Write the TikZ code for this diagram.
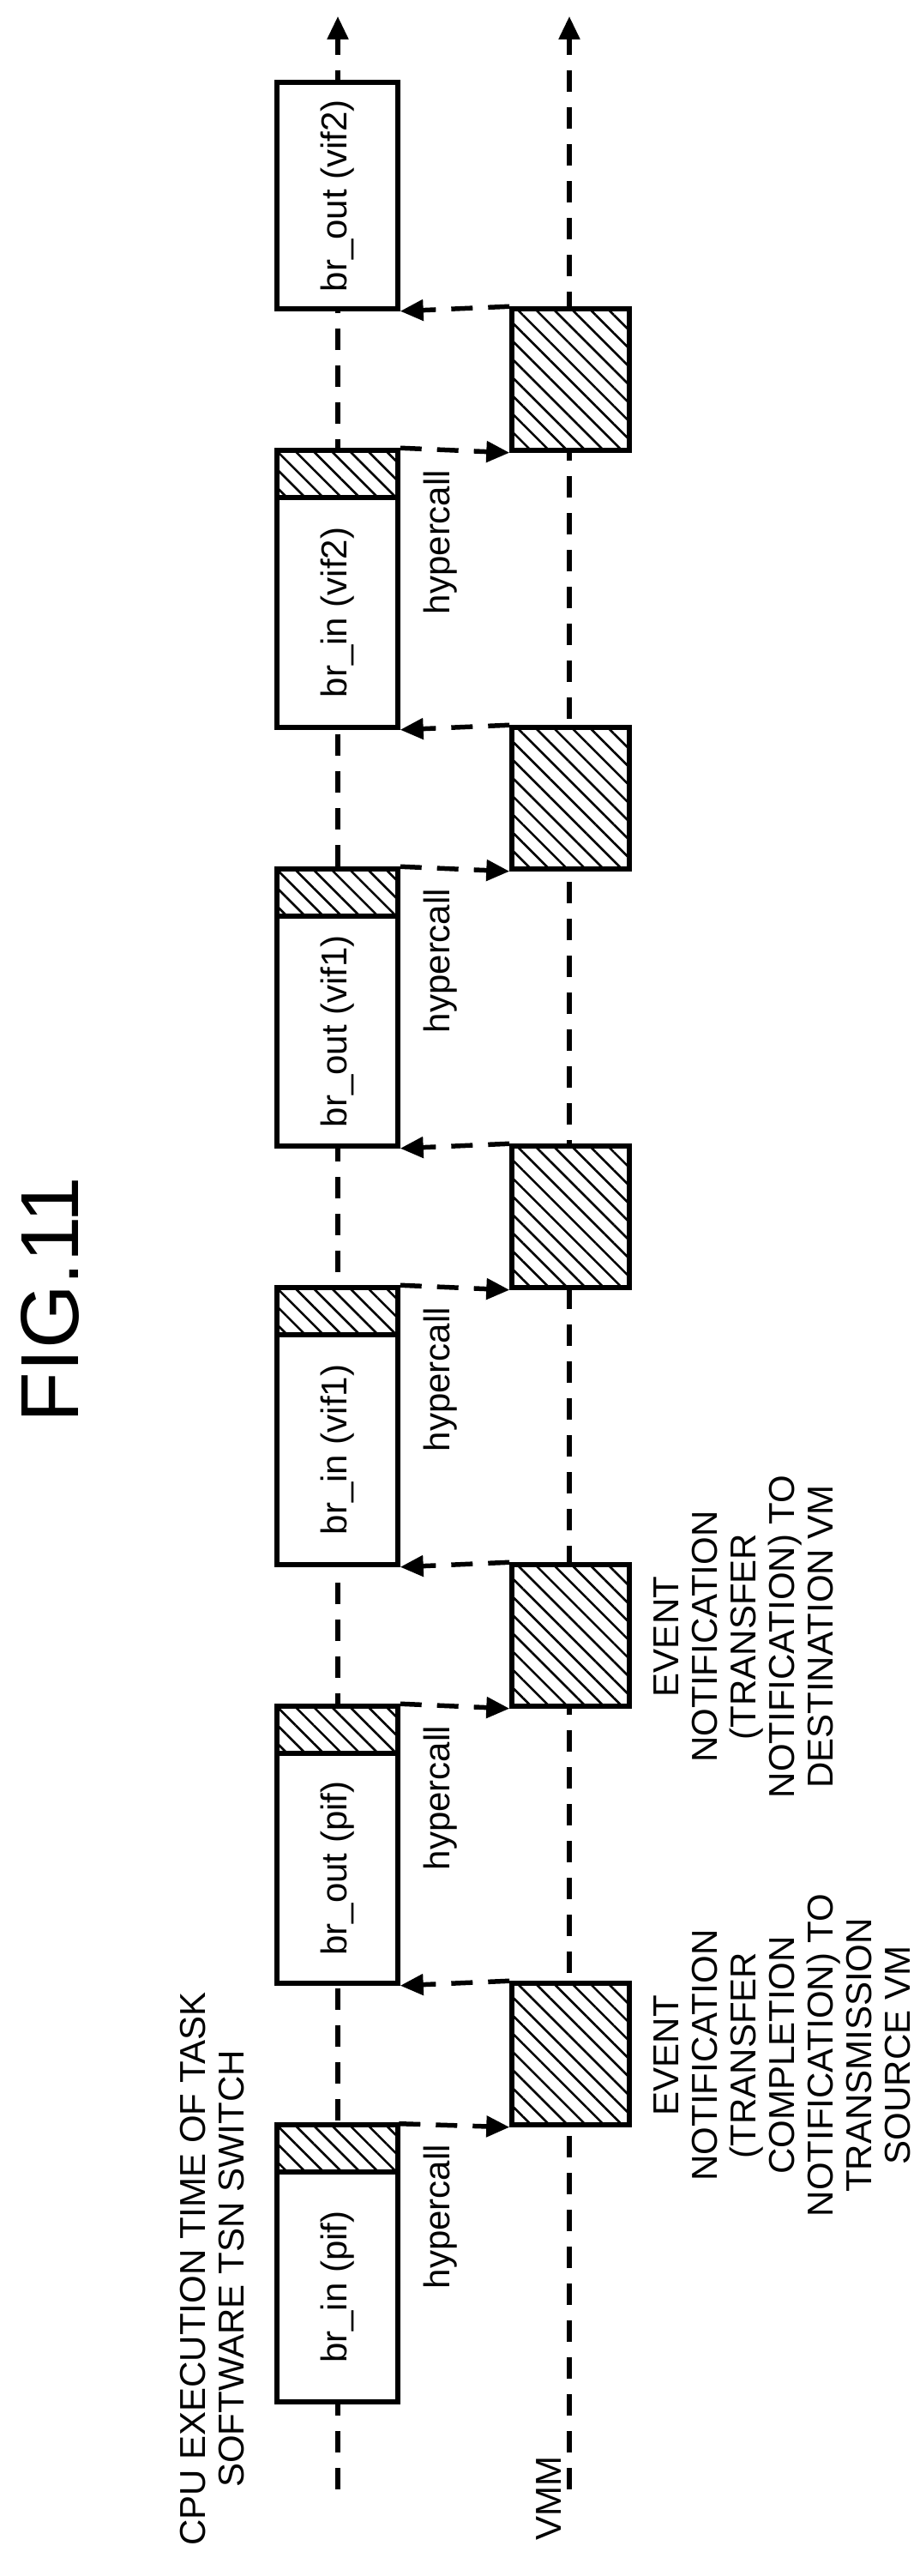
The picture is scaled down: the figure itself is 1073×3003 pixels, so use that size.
\documentclass[tikz,border=0pt]{standalone}
\usepackage{fontspec}
\setmainfont{Liberation Sans}
\usetikzlibrary{arrows.meta,patterns.meta}
\begin{document}
\begin{tikzpicture}[x=1pt,y=-1pt,
  dsh/.style={line width=5.5pt,dash pattern=on 25pt off 18pt},
  tip/.style={-{Triangle[length=27pt,width=24pt]}},
  box/.style={draw,line width=5.5pt,fill=white,minimum width=141pt,inner sep=0pt},
  hatch/.style={draw,line width=5.5pt,inner sep=0pt,
    preaction={fill=white},pattern={Lines[angle=-45,distance=15pt,line width=2.6pt]}},
  lbl/.style={rotate=90,font=\fontsize{42}{45}\selectfont,inner sep=0pt},
  big/.style={rotate=90,font=\fontsize{42}{45}\selectfont,inner sep=0pt,align=center}]
\useasboundingbox (0,0) rectangle (1073,3003);
\coordinate (c0) at (394,2902); \coordinate (c1) at (394,19);
\coordinate (m0) at (664,2902); \coordinate (m1) at (664,19);
\draw[dsh,tip] (c0) -- (c1);
\draw[dsh,tip] (m0) -- (m1);
\foreach \i/\txt in {0/br\_in (pif),1/br\_out (pif),2/br\_in (vif1),3/br\_out (vif1),4/br\_in (vif2)}{
  \pgfmathsetmacro\T{2477-488*\i}
  \node[hatch,minimum width=141pt,minimum height=55pt] (h\i) at (393.5,\T+27.5) {};
  \node[box,minimum height=268pt] (t\i) at (393.5,\T+189) {};
  \node[lbl] (l\i) at (t\i.center) {\txt};
  \node[hatch,minimum width=137pt,minimum height=165pt] (v\i) at (665.5,\T-82.5) {};
  \node[lbl] (hc\i) at (514,\T+107) {hypercall};
  \draw[dsh,tip] (h\i.north east) -- (v\i.south west);
}
\node[box,minimum height=264pt] (t5) at (393.5,228) {};
\node[lbl] (l5) at (t5.center) {br\_out (vif2)};
\foreach \i/\j in {0/1,1/2,2/3,3/4}{
  \draw[dsh,tip] (v\i.north west) -- (t\j.south east);
}
\draw[dsh,tip] (v4.north west) -- (t5.south east);
\node[big] (cpu) at (248,2645) {CPU EXECUTION TIME OF TASK\\SOFTWARE TSN SWITCH};
\node[lbl,anchor=west] (vmm) at (640,2962) {VMM};
\node[big,anchor=north] (e0) at (762,2396) {EVENT\\NOTIFICATION\\(TRANSFER\\COMPLETION\\NOTIFICATION) TO\\TRANSMISSION\\SOURCE VM};
\node[big,anchor=north] (e1) at (762,1908) {EVENT\\NOTIFICATION\\(TRANSFER\\NOTIFICATION) TO\\DESTINATION VM};
\node[rotate=90,font=\fontsize{96}{96}\selectfont,inner sep=0pt] (fig) at (58,1515) {FIG.11};
\end{tikzpicture}
\end{document}
